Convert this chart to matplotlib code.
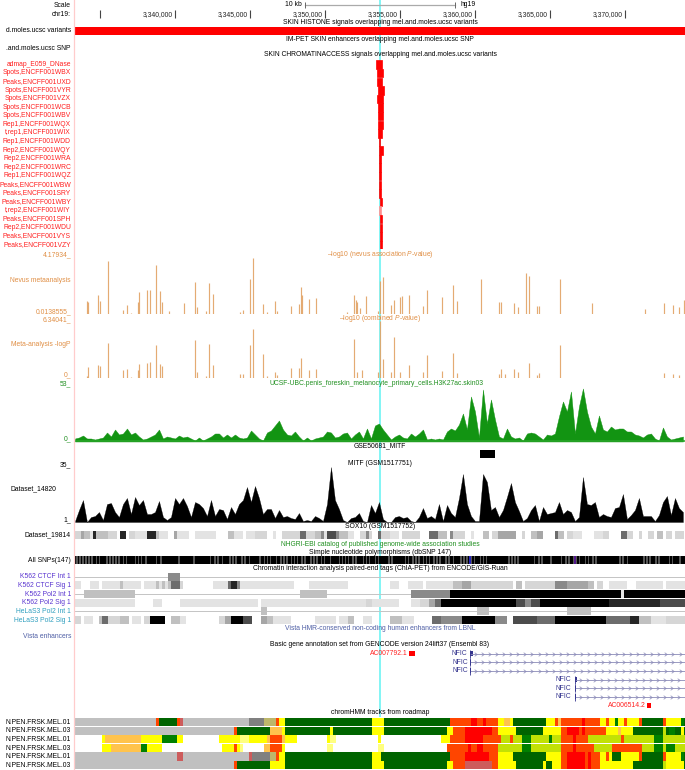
import numpy as np
import matplotlib
matplotlib.use('Agg')
import matplotlib.pyplot as plt
from matplotlib.path import Path

plt.rcParams['font.family'] = ['Liberation Sans', 'DejaVu Sans']
plt.rcParams['mathtext.fontset'] = 'custom'
plt.rcParams['mathtext.it'] = 'Liberation Sans:italic'
plt.rcParams['mathtext.rm'] = 'Liberation Sans'

# Window on chr19, in kb
START_KB = 3333.33
END_KB = 3374.0
BIN_KB = 0.2        # chromHMM and density tracks are drawn in 200 bp bins
SNP_BIN_KB = 0.1
SIGNAL_BIN_KB = 4 / 15

tick_kb = [3335, 3340, 3345, 3350, 3355, 3360, 3365, 3370]
tick_labels = ['', '3,340,000', '3,345,000', '3,350,000', '3,355,000',
               '3,360,000', '3,365,000', '3,370,000']
highlight_kb = (3353.60, 3353.73)

# Chromatin accessibility hits overlapping the variant
access_names = ['admap_E059_DNase', 'Spots,ENCFF001WBX', 'Peaks,ENCFF001UXD', 'Spots,ENCFF001VYR',
                'Spots,ENCFF001VZX', 'Spots,ENCFF001WCB', 'Spots,ENCFF001WBV', 'Rep1,ENCFF001WQX',
                't,rep1,ENCFF001WIX', 'Rep1,ENCFF001WDD', 'Rep2,ENCFF001WQY', 'Rep2,ENCFF001WRA',
                'Rep2,ENCFF001WRC', 'Rep1,ENCFF001WQZ', 'Peaks,ENCFF001WBW', 'Peaks,ENCFF001SRY',
                'Peaks,ENCFF001WBY', 't,rep2,ENCFF001WIY', 'Peaks,ENCFF001SPH', 'Rep2,ENCFF001WDU',
                'Peaks,ENCFF001VYS', 'Peaks,ENCFF001VZY']
access_start = [3353.38, 3353.49, 3353.49, 3353.51, 3353.49, 3353.51, 3353.51, 3353.51, 3353.56, 3353.62, 3353.60,
                3353.58, 3353.60, 3353.62, 3353.62, 3353.62, 3353.64, 3353.62, 3353.64, 3353.64, 3353.64, 3353.64]
access_end = [3353.78, 3353.84, 3353.82, 3353.91, 3353.84, 3353.89, 3353.87, 3353.89, 3353.80, 3353.69, 3353.84,
              3353.71, 3353.76, 3353.73, 3353.76, 3353.76, 3353.80, 3353.71, 3353.78, 3353.78, 3353.78, 3353.78]

# Association tracks, read as height on the track
nevus_kb = [3334.10, 3334.20, 3334.87, 3335.00, 3335.55, 3336.53, 3336.78, 3337.07, 3337.51, 3337.60, 3338.13,
            3338.33, 3338.76, 3338.97, 3339.13, 3339.57, 3340.60, 3341.35, 3341.47, 3342.05, 3342.25, 3342.55,
            3344.33, 3344.50, 3344.97, 3345.20, 3345.89, 3346.16, 3346.68, 3346.80, 3347.73, 3348.29, 3348.37,
            3348.49, 3348.95, 3349.39, 3351.46, 3351.93, 3352.04, 3352.16, 3352.33, 3352.71, 3353.55, 3353.67,
            3353.87, 3354.37, 3354.60, 3354.98, 3355.13, 3355.62, 3356.50, 3356.82, 3357.80, 3358.51, 3358.80,
            3360.43, 3361.57, 3361.73, 3362.61, 3362.87, 3363.43, 3363.63, 3364.15, 3364.25, 3365.67, 3367.83,
            3371.35, 3372.60, 3373.21, 3373.62, 3373.91]
nevus_val = [13, 12, 19, 13, 53, 4, 9, 1, 12, 22, 24,
             24, 49, 23, 12, 3, 11, 32, 7, 3, 31, 20,
             2, 4, 35, 56, 10, 2, 13, 3, 8, 10, 27,
             19, 15, 16, 2, 19, 14, 12, 6, 18, 3, 33,
             37, 9, 14, 17, 18, 19, 8, 24, 17, 29, 13,
             35, 12, 12, 11, 7, 41, 38, 8, 8, 35, 11,
             5, 11, 9, 7, 14]
meta_kb = [3334.10, 3334.20, 3334.87, 3335.00, 3335.55, 3336.53, 3336.78, 3337.07, 3337.51, 3337.60, 3338.13,
           3338.33, 3338.76, 3338.97, 3339.13, 3341.35, 3341.47, 3342.05, 3342.25, 3342.55, 3344.33, 3344.50,
           3344.97, 3345.20, 3345.89, 3346.16, 3346.68, 3346.80, 3347.73, 3348.29, 3348.37, 3348.95, 3349.39,
           3351.93, 3352.16, 3352.45, 3353.50, 3353.67, 3353.87, 3354.37, 3354.60, 3354.98, 3355.62, 3356.50,
           3356.82, 3357.80, 3358.51, 3358.80, 3361.57, 3361.73, 3362.03, 3362.61, 3362.87, 3363.63, 3364.15,
           3364.25, 3365.67, 3372.60, 3373.21, 3373.62]
meta_val = [2, 11, 13, 12, 35, 8, 9, 1, 8, 14, 15,
            16, 33, 14, 12, 38, 6, 2, 34, 13, 4, 4,
            33, 49, 24, 2, 6, 3, 10, 10, 20, 8, 9,
            39, 6, 8, 6, 57, 19, 6, 41, 6, 13, 6,
            23, 7, 25, 5, 4, 9, 4, 9, 6, 15, 3,
            5, 33, 5, 4, 3]

h3k27ac_left = [3, 4, 6, 3, 3, 2, 3, 4, 9, 5, 12, 7, 8, 13, 7, 9, 5, 2, 3, 5, 7, 12, 3, 5, 4, 3, 6, 4, 5, 3, 1, 4, 1,
                3, 5, 8, 8, 4, 7, 4, 7, 4, 3, 4, 11, 7, 3, 1, 9, 11, 16, 21, 12, 7, 6, 10, 5, 1, 4, 1, 3, 4, 5, 10,
                9, 4, 5, 8, 9, 3, 7, 10, 3, 13, 3, 16, 18]
h3k27ac_right = [12, 7, 2, 5, 7, 4, 3, 8, 5, 8, 12, 2, 3, 2, 3, 2, 10, 13, 11, 17, 28, 12, 45, 30, 4, 52, 18, 42, 22,
                 5, 3, 13, 5, 3, 4, 1, 8, 9, 8, 5, 2, 7, 6, 8, 25, 40, 30, 50, 8, 35, 53, 30, 15, 8, 26, 12, 10, 15,
                 12, 13, 13, 10, 10, 7, 6, 4, 7, 8, 3, 1, 14, 5, 2, 3, 4, 5]
mitf_left = [1, 12, 22, 0, 5, 6, 10, 2, 18, 19, 10, 5, 18, 24, 8, 25, 17, 22, 8, 8, 10, 21, 5, 2, 5, 24, 18, 24, 16,
             5, 20, 18, 14, 6, 22, 6, 13, 12, 3, 15, 8, 18, 22, 35, 20, 36, 24, 8, 13, 13, 4, 12, 5, 6, 4, 3, 9, 1,
             2, 1, 6, 4, 1, 18, 55, 22, 13, 2, 0, 4, 5, 9, 1, 0, 17, 9, 20]
mitf_right = [3, 0, 0, 5, 6, 4, 5, 1, 0, 5, 14, 4, 6, 3, 18, 1, 17, 9, 5, 24, 48, 18, 6, 1, 1, 48, 40, 12, 15, 5, 12,
              25, 39, 20, 11, 1, 4, 12, 17, 1, 15, 8, 9, 10, 20, 8, 12, 10, 1, 5, 45, 18, 17, 20, 5, 8, 6, 5, 14,
              15, 28, 3, 7, 12, 24, 6, 6, 6, 1, 7, 20, 26, 7, 24, 14, 10]

# (darkness 0-9, number of bins)
sox10_runs = [(2, 2), (4, 1), (3, 2), (1, 1), (8, 1), (3, 4), (2, 3), (0, 1), (8, 2), (0, 1), (2, 2), (1, 4), (8, 3),
              (3, 1), (1, 3), (0, 2), (4, 1), (1, 4), (0, 2), (1, 4), (1, 3), (0, 4), (3, 2), (1, 3), (0, 1), (1, 3),
              (2, 4), (0, 2), (1, 1), (0, 2), (2, 3), (2, 3), (6, 2), (2, 3), (3, 2), (5, 1), (1, 1), (7, 3), (5, 1),
              (3, 3), (1, 2), (0, 2), (2, 2), (5, 1), (2, 1), (0, 2), (6, 1), (2, 3), (1, 3), (0, 1), (2, 3), (2, 3),
              (0, 3), (6, 3), (3, 3), (0, 1), (5, 1), (2, 4), (0, 2), (1, 1), (0, 3), (3, 2), (0, 1), (2, 2), (4, 6),
              (0, 2), (2, 1), (0, 2), (3, 2), (4, 2), (0, 4), (6, 1), (3, 2), (0, 1), (2, 2), (1, 3), (0, 4), (1, 3),
              (2, 2), (0, 4), (6, 2), (2, 2), (0, 2), (2, 1), (0, 2), (2, 2), (0, 1), (3, 2), (0, 1), (2, 2), (0, 1),
              (2, 3)]
ctcf_int_runs = [(0, 31), (5, 4)]
ctcf_sig_runs = [(1, 2), (0, 3), (1, 3), (0, 1), (1, 6), (3, 1), (1, 6), (0, 1), (1, 4), (3, 1), (1, 1), (3, 1), (1, 1),
                 (3, 1), (6, 3), (2, 1), (0, 10), (1, 5), (6, 1), (8, 2), (5, 1), (1, 18), (0, 5), (1, 10), (1, 3),
                 (0, 14), (1, 3), (0, 3), (1, 5), (0, 1), (1, 3), (1, 6), (3, 3), (4, 3), (2, 14), (0, 1), (3, 2),
                 (0, 1), (2, 10), (5, 4), (4, 7), (3, 2), (0, 1), (2, 2), (0, 2), (1, 6), (0, 3), (1, 9), (0, 1), (1, 7)]
pol2_int_runs = [(0, 3), (3, 17), (0, 55), (3, 9), (0, 28), (5, 13), (9, 57), (1, 1), (9, 21)]
pol2_sig_runs = [(1, 20), (0, 6), (1, 3), (0, 6), (1, 26), (0, 1), (1, 35), (2, 2), (1, 9), (0, 4), (1, 3), (2, 3),
                 (4, 2), (6, 2), (9, 25), (7, 3), (5, 2), (7, 3), (9, 23), (8, 17), (7, 9)]
hela_int_runs = [(0, 62), (3, 2), (0, 70), (3, 4), (0, 26), (3, 8)]
hela_sig_runs = [(2, 2), (0, 1), (1, 3), (0, 2), (3, 1), (6, 2), (2, 4), (3, 3), (0, 1), (1, 3), (0, 1), (2, 2), (9, 5),
                 (0, 2), (3, 3), (1, 2), (0, 11), (2, 2), (4, 2), (9, 4), (7, 3), (0, 3), (4, 2), (3, 2), (1, 6), (0, 8),
                 (1, 7), (0, 1), (1, 3), (3, 2), (0, 3), (1, 3), (0, 6), (3, 4), (1, 4), (0, 6), (6, 3), (5, 7), (9, 11),
                 (5, 4), (0, 2), (7, 8), (6, 6), (9, 17), (6, 8), (8, 3), (3, 4), (1, 5), (2, 7)]

# black stretches of the SNP density, one light bin between them
snp_black = [1, 1, 1, 1, 1, 1, 2, 1, 4, 1, 1, 1, 1, 2, 1, 5, 1, 1, 2, 6, 2,
             11, 9, 10,
             2, 1, 2, 4, 1, 1, 3, 1, 2, 6, 2, 1, 1, 3, 2, 1, 1, 2,
             1, 1, 2, 1, 3, 1, 1, 2, 1, 3, 5, 1, 1, 1, 2, 1, 4, 1, 1,
             3, 1, 6, 1, 8, 1, 2, 1, 1, 2, 1, 1, 2, 1, 1, 3, 1, 2,
             4, 1, 1, 2, 1, 3, 1, 1, 14, 1, 1, 1, 10, 2, 1, 5, 6, 2,
             1, 2, 1, 1, 3, 1, 2, 1, 15, 1, 2, 10, 1, 1, 3, 1, 6, 1, 4, 3, 2, 8]
snp_colored_kb = [3359.67, 3366.67]
snp_colored = ['#2a2ad0', '#5a1a9a']

state_colors = {'gray': '#c0c0c0', 'dgray': '#808080', 'khaki': '#bdb76b', 'orange': '#ff4500', 'red': '#ff0000',
                'indian': '#cd5c5c', 'yellow': '#ffff00', 'pale': '#ffff80', 'lorange': '#ffc34d',
                'dgreen': '#006400', 'green': '#008000', 'olive': '#c2e105', 'white': '#ffffff'}
mel01_a = [('gray', 27), ('orange', 1), ('dgreen', 6), ('orange', 1), ('indian', 1), ('gray', 22), ('dgray', 5),
           ('khaki', 4), ('orange', 1), ('yellow', 2), ('dgreen', 29), ('yellow', 4), ('dgreen', 22), ('orange', 7),
           ('red', 2), ('orange', 2), ('red', 1), ('orange', 4), ('yellow', 2), ('lorange', 2), ('yellow', 1),
           ('dgreen', 11), ('yellow', 3), ('orange', 1), ('lorange', 1), ('orange', 7), ('red', 1), ('orange', 5),
           ('yellow', 2), ('orange', 1), ('yellow', 2), ('green', 1), ('yellow', 2), ('orange', 1), ('yellow', 4),
           ('orange', 1), ('dgreen', 7), ('orange', 1), ('yellow', 5), ('green', 1), ('dgreen', 1)]
mel03_a = [('gray', 53), ('orange', 1), ('dgreen', 11), ('lorange', 4), ('yellow', 1), ('dgreen', 15), ('yellow', 1),
           ('dgreen', 13), ('yellow', 4), ('dgreen', 21), ('yellow', 2), ('orange', 4), ('red', 9), ('orange', 2),
           ('yellow', 6), ('dgreen', 9), ('yellow', 6), ('orange', 2), ('red', 4), ('orange', 1), ('red', 1),
           ('orange', 7), ('yellow', 4), ('lorange', 1), ('yellow', 4), ('dgreen', 10), ('olive', 1), ('dgreen', 1),
           ('green', 2), ('dgreen', 2), ('yellow', 1), ('dgreen', 1)]
mel01_b = [('white', 9), ('yellow', 1), ('lorange', 12), ('yellow', 7), ('green', 5), ('yellow', 2), ('white', 12),
           ('yellow', 7), ('pale', 3), ('yellow', 6), ('lorange', 1), ('orange', 4), ('lorange', 1), ('yellow', 4),
           ('white', 10), ('yellow', 1), ('pale', 2), ('white', 14), ('yellow', 1), ('white', 20), ('yellow', 3),
           ('orange', 5), ('red', 6), ('orange', 6), ('olive', 3), ('orange', 1), ('olive', 3), ('green', 3),
           ('olive', 6), ('green', 1), ('olive', 3), ('orange', 4), ('red', 1), ('orange', 4), ('olive', 11),
           ('orange', 1), ('olive', 10), ('green', 3), ('olive', 8)]
mel03_b = [('white', 9), ('yellow', 3), ('lorange', 10), ('green', 2), ('yellow', 5), ('white', 20), ('yellow', 4),
           ('orange', 1), ('yellow', 1), ('pale', 1), ('white', 7), ('lorange', 2), ('orange', 4), ('yellow', 1),
           ('white', 14), ('pale', 2), ('white', 15), ('pale', 2), ('white', 21), ('orange', 7), ('red', 1),
           ('orange', 2), ('red', 2), ('orange', 5), ('olive', 8), ('green', 3), ('olive', 10), ('orange', 4),
           ('red', 1), ('orange', 6), ('olive', 6), ('orange', 10), ('olive', 4), ('green', 3), ('olive', 1),
           ('green', 3), ('olive', 4)]
mel01_c = [('gray', 34), ('indian', 2), ('gray', 22), ('indian', 1), ('dgray', 6), ('khaki', 2), ('orange', 1),
           ('yellow', 2), ('dgreen', 29), ('yellow', 3), ('dgreen', 23), ('orange', 5), ('red', 8), ('orange', 3),
           ('yellow', 5), ('dgreen', 11), ('yellow', 5), ('orange', 2), ('red', 6), ('orange', 1), ('red', 1),
           ('orange', 3), ('yellow', 2), ('orange', 1), ('yellow', 1), ('dgreen', 3), ('yellow', 6), ('orange', 1),
           ('dgreen', 7), ('orange', 1), ('yellow', 5), ('green', 1), ('dgreen', 1)]
mel03_c = [('gray', 53), ('orange', 1), ('dgreen', 11), ('yellow', 5), ('dgreen', 29), ('yellow', 4), ('dgreen', 21),
           ('yellow', 2), ('orange', 4), ('indian', 9), ('orange', 2), ('yellow', 6), ('dgreen', 9), ('yellow', 1),
           ('dgreen', 2), ('yellow', 3), ('orange', 2), ('red', 6), ('orange', 1), ('red', 1), ('orange', 3),
           ('yellow', 11), ('dgreen', 10), ('olive', 1), ('yellow', 6), ('dgreen', 1)]
hmm_labels = ['N.PEN.FRSK.MEL.01', 'N.PEN.FRSK.MEL.03'] * 3

darkness = ['#ffffff', '#e3e3e3', '#d6d6d6', '#c0c0c0', '#a6a6a6', '#8a8a8a', '#6c6c6c', '#4c4c4c', '#262626', '#000000']

RED = '#ff2020'
ORANGE = '#e08f45'
GREEN = '#1f8f1f'
PURPLE = '#5a35d0'
TEAL = '#2f9fbf'
SLATE = '#4f5fa5'
NAVY = '#35358f'
FS = 4.85

fig = plt.figure(figsize=(6.85, 7.7), dpi=100)


def track_axes(top, bottom, ymin=0, ymax=1, zorder=1):
    # top and bottom are given in figure pixels from the top
    ax = fig.add_axes([75 / 685, 1 - bottom / 770, 610 / 685, (bottom - top) / 770], zorder=zorder)
    ax.set_xlim(START_KB, END_KB)
    ax.set_ylim(ymin, ymax)
    ax.axis('off')
    ax.patch.set_alpha(0)
    return ax


def draw_levels(top, bottom, runs):
    ax = track_axes(top, bottom)
    pos = START_KB
    for level, span in runs:
        if level > 0:
            ax.barh(0.5, span * BIN_KB, left=pos, height=1, color=darkness[level], lw=0)
        pos += span * BIN_KB
    return ax


# page layer for labels
page = fig.add_axes([0, 0, 1, 1], zorder=5)
page.set_xlim(0, 685)
page.set_ylim(770, 0)
page.axis('off')
page.patch.set_alpha(0)


def left_label(y, text, color='black', x=71):
    page.text(x, y, text, ha='right', va='center', fontsize=FS, color=color)


def center_label(y, text, color='black', x=380):
    page.text(x, y, text, ha='center', va='center', fontsize=FS, color=color)


# pink margin line and the cyan highlight behind everything
page.plot([74.5, 74.5], [0, 770], color='#ffcccc', lw=0.9)
back = track_axes(0, 717, zorder=0)
back.axvspan(highlight_kb[0], highlight_kb[1], color='#85f5f5', lw=0)

# ruler
left_label(5.5, 'Scale')
left_label(14.5, 'chr19:')
ruler = track_axes(0, 20, ymin=20, ymax=0)
ruler.vlines(tick_kb, 10, 18, color='#444444', lw=0.8)
for kb, lab in zip(tick_kb, tick_labels):
    ruler.text(kb - 0.13, 14.5, lab, ha='right', va='center', fontsize=FS, color='#222222')
ruler.plot([3348.67, 3358.67], [5, 5], color='#aaaaaa', lw=0.9)
ruler.vlines([3348.67, 3358.67], 2, 8, color='#666666', lw=0.7)
ruler.text(3348.45, 5, '10 kb', ha='right', va='center', fontsize=FS)
ruler.text(3359.0, 5, 'hg19', ha='left', va='center', fontsize=FS)

# variant tracks on top
center_label(22.5, 'SKIN HISTONE signals overlapping mel.and.moles.ucsc variants')
track_axes(26.7, 35).barh(0.5, END_KB - START_KB, left=START_KB, height=1, color='#ff0000', lw=0)
left_label(31, 'd.moles.ucsc variants')
center_label(39.5, 'IM-PET SKIN enhancers overlapping mel.and.moles.ucsc SNP')
left_label(48, '.and.moles.ucsc SNP')
center_label(55, 'SKIN CHROMATINACCESS signals overlapping mel.and.moles.ucsc variants')

# accessibility rows
access = track_axes(60.4, 249.2, ymin=22, ymax=0)
access_row = np.arange(len(access_names))
access_colors = ['#ff9090' if n.startswith('t,rep2') else '#ff0000' for n in access_names]
access.barh(access_row + 0.5, np.array(access_end) - np.array(access_start), left=access_start,
            height=0.98, color=access_colors, edgecolor=access_colors, lw=0.5)
for i, name in enumerate(access_names):
    left_label(64.4 + i * 8.57, name, color=RED)

# association tracks
center_label(255, r'–log10 (nevus association $\mathit{P}$-value)', color=ORANGE)
left_label(255, '4.17934_', color=ORANGE)
left_label(280.5, 'Nevus metaanalysis', color=ORANGE)
left_label(311.5, '0.0138555_', color=ORANGE)
nevus = track_axes(258, 314, ymin=0, ymax=56)
nevus.vlines(nevus_kb, 0, nevus_val, color='#e2a264', lw=0.85, alpha=0.9)

left_label(320, '6.34041_', color=ORANGE)
center_label(319, r'–log10 (combined $\mathit{P}$-value)', color=ORANGE)
left_label(344.5, 'Meta-analysis -logP', color=ORANGE)
left_label(375, '0_', color=ORANGE)
meta = track_axes(320.7, 377.7, ymin=0, ymax=57)
meta.vlines(meta_kb, 0, meta_val, color='#e2a264', lw=0.85, alpha=0.9)

# H3K27ac
left_label(384, '53_', color=GREEN)
left_label(439, '0_', color=GREEN)
center_label(383.5, 'UCSF-UBC.penis_foreskin_melanocyte_primary_cells.H3K27ac.skin03', color=GREEN, x=377)
h3k27ac = h3k27ac_left + h3k27ac_right
green_x = START_KB + np.arange(len(h3k27ac)) * SIGNAL_BIN_KB
green_ax = track_axes(384, 441.5, ymin=0, ymax=57.5)
green_ax.fill_between(green_x, 0, h3k27ac, color='#129412', lw=0.3)
green_ax.axhline(0.7, color='#2aa52a', lw=1.1)

# MITF
center_label(446, 'GSE50681_MITF')
mitf_peak = track_axes(450, 458.3)
mitf_peak.barh(0.5, 0.97, left=3360.33, height=1, color='black', lw=0)
left_label(464.5, '35_')
center_label(463.5, 'MITF (GSM1517751)')
left_label(488.5, 'Dataset_14820', x=56)
left_label(519.5, '1_')
mitf = mitf_left + mitf_right
mitf_x = START_KB + np.arange(len(mitf)) * SIGNAL_BIN_KB
black_ax = track_axes(466, 522, ymin=0, ymax=56)
black_ax.fill_between(mitf_x, 0, mitf, color='black', lw=0.2)
black_ax.axhline(0.3, color='#555555', lw=0.6)

# density strips
center_label(527, 'SOX10 (GSM1517752)')
left_label(535, 'Dataset_19814')
draw_levels(531, 539, sox10_runs)
center_label(544, 'NHGRI-EBI catalog of published genome-wide association studies', color=GREEN)
center_label(552.5, 'Simple nucleotide polymorphisms (dbSNP 147)')
left_label(560, 'All SNPs(147)')
snp_ax = track_axes(556, 564)
pos = START_KB
for width in snp_black:
    snp_ax.barh(0.5, width * SNP_BIN_KB, left=pos, height=1, color='black', lw=0)
    snp_ax.barh(0.5, SNP_BIN_KB, left=pos + width * SNP_BIN_KB, height=1, color='#555555', lw=0)
    pos += (width + 1) * SNP_BIN_KB
snp_ax.vlines(snp_colored_kb, 0, 1, color=snp_colored, lw=1.3)

# ChIA-PET
center_label(569, 'Chromatin interaction analysis paired-end tags (ChIA-PET) from ENCODE/GIS-Ruan')
chia = [(572.7, 'K562 CTCF Int 1', PURPLE, ctcf_int_runs, True),
        (581.3, 'K562 CTCF Sig 1', PURPLE, ctcf_sig_runs, False),
        (590.0, 'K562 Pol2 Int 1', PURPLE, pol2_int_runs, True),
        (598.7, 'K562 Pol2 Sig 1', PURPLE, pol2_sig_runs, False),
        (607.3, 'HeLaS3 Pol2 Int 1', TEAL, hela_int_runs, True),
        (616.0, 'HeLaS3 Pol2 Sig 1', TEAL, hela_sig_runs, False)]
for top, name, col, runs, has_line in chia:
    row_ax = draw_levels(top, top + 8, runs)
    if has_line:
        row_ax.axhline(0.5, color='#c4c4c4', lw=0.7, zorder=0)
    left_label(top + 4.2, name, color=col)

center_label(629, 'Vista HMR-conserved non-coding human enhancers from LBNL', color=SLATE)
left_label(637, 'Vista enhancers', color=SLATE)

# gene models
center_label(644.5, 'Basic gene annotation set from GENCODE version 24lift37 (Ensembl 83)')
genes = track_axes(646, 712, ymin=712, ymax=646)
gene_y = [653.7, 662.3, 671.0, 679.7, 688.3, 697.0]
gene_start = [3359.67, 3359.67, 3359.67, 3366.65, 3366.65, 3366.65]
exon_kb = [0.17, 0.07, 0.05, 0.17, 0.1, 0.05]
gene_label_x = [466.7, 468, 468, 571, 571.5, 571.5]
chevron = Path([(-1, 1), (0.4, 0), (-1, -1)], [Path.MOVETO, Path.LINETO, Path.LINETO])
for y, start, exon, lx in zip(gene_y, gene_start, exon_kb, gene_label_x):
    genes.plot([start, END_KB], [y, y], color='#8a8ab8', lw=0.6)
    arrows = np.arange(start + 0.4, END_KB, 0.47)
    genes.plot(arrows, [y] * len(arrows), ls='none', marker=chevron, ms=2.6, mfc='none', mec='#8a8ab8', mew=0.5)
    genes.barh(y, exon, left=start, height=5, color=NAVY, lw=0)
    genes.vlines(start, y - 4, y + 4, color=NAVY, lw=0.6)
    left_label(y, 'NFIC', color=NAVY, x=lx)
genes.barh(653.7, 0.4, left=3355.6, height=5, color='#ff0000', lw=0)
genes.barh(705.7, 0.26, left=3371.47, height=5, color='#ff0000', lw=0)
left_label(653.7, 'AC007792.1', color=RED, x=408)
left_label(705.7, 'AC006514.2', color=RED, x=645.7)

# chromHMM
center_label(713, 'chromHMM tracks from roadmap')
hmm_rows = [mel01_a, mel03_a, mel01_b, mel03_b, mel01_c, mel03_c]
for i, (label, segs) in enumerate(zip(hmm_labels, hmm_rows)):
    top = 718 + i * 8.6
    row_ax = track_axes(top, top + 8.1)
    pos = START_KB
    for state, span in segs:
        row_ax.barh(0.5, span * BIN_KB, left=pos, height=1, color=state_colors[state], lw=0)
        pos += span * BIN_KB
    left_label(top + 4.2, label)

fig.savefig('out.png', dpi=100)
